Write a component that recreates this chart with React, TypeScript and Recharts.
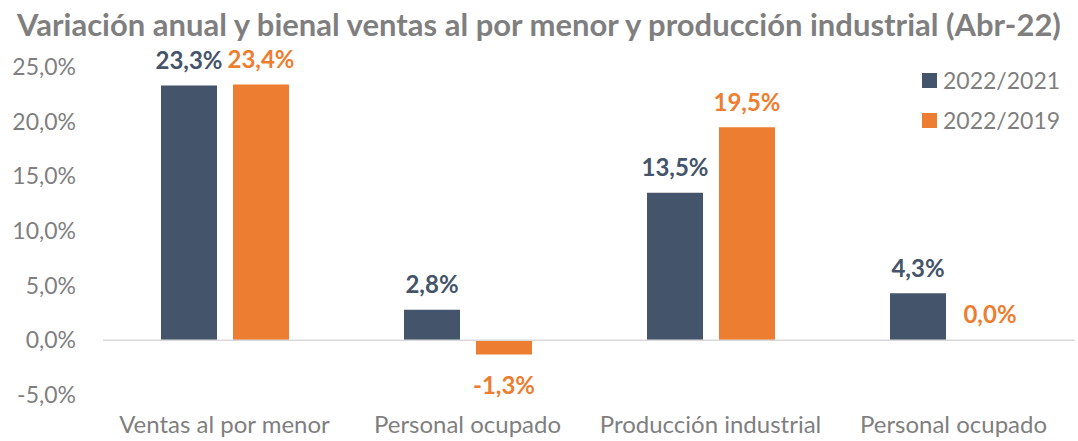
import { BarChart, Bar, XAxis, YAxis, LabelList, ReferenceLine, Cell } from "recharts";

const categories = ["Ventas al por menor", "Personal ocupado", "Producción industrial", "Personal ocupado "];
const anual = [23.3, 2.8, 13.5, 4.3]; // 2022/2021
const bienal = [23.4, -1.3, 19.5, 0.0]; // 2022/2019
const yTicks = [-5, 0, 5, 10, 15, 20, 25];
const seriesNames = ["2022/2021", "2022/2019"];

const data = categories.map((name, i) => ({ name, anual: anual[i], bienal: bienal[i] }));

const NAVY = "#44546A";
const ORANGE = "#ED7D31";
const GRAY = "#7F7F7F";
const FONT = "Lato, 'Open Sans', sans-serif";

const pct = (v: number) => v.toFixed(1).replace(".", ",") + "%";

const makeLabel = (color: string) => (props: any) => {
  const { x, y, width, height, value } = props;
  const top = Math.min(y, y + height);
  const bottom = Math.max(y, y + height);
  const cy = value < 0 ? bottom + 30 : top - 26;
  return (
    <text x={x + width / 2} y={cy} textAnchor="middle" dominantBaseline="central"
      fill={color} fontSize={24} fontWeight={700} fontFamily={FONT}>
      {pct(value)}
    </text>
  );
};

export default function App() {
  const colors = [NAVY, ORANGE];
  return (
    <div style={{ position: "fixed", left: 0, top: 0, width: 1078, height: 441, background: "#fff" }}>
      <div style={{ position: "absolute", left: 0, top: 5, width: 1078, textAlign: "center",
        fontFamily: FONT, fontWeight: 700, fontSize: 31, color: GRAY, whiteSpace: "nowrap" }}>
        Variación anual y bienal ventas al por menor y producción industrial (Abr-22)
      </div>
      <div style={{ position: "absolute", left: 922, top: 60, fontFamily: FONT, fontSize: 23, color: GRAY }}>
        {seriesNames.map((n, i) => (
          <div key={n} style={{ display: "flex", alignItems: "center", height: 40 }}>
            <span style={{ display: "inline-block", width: 15, height: 15, background: colors[i], marginRight: 6 }} />
            {n}
          </div>
        ))}
      </div>
      <BarChart width={1078} height={441} data={data}
        margin={{ top: 67, right: 3, left: 0, bottom: 0 }} barSize={56} barGap={16}>
        <XAxis dataKey="name" axisLine={false} tickLine={false} height={46}
          tick={{ fill: GRAY, fontSize: 24, fontFamily: FONT }} tickMargin={15} />
        <YAxis domain={[-5, 25]} ticks={yTicks} width={103} axisLine={false} tickLine={false}
          tickSize={0} tickMargin={27} tickFormatter={pct}
          tick={{ fill: GRAY, fontSize: 23, fontFamily: FONT }} />
        <ReferenceLine y={0} stroke="#D9D9D9" strokeWidth={1.5} />
        <Bar dataKey="anual" name={seriesNames[0]} fill={NAVY} isAnimationActive={false}>
          <LabelList dataKey="anual" content={makeLabel(NAVY)} />
        </Bar>
        <Bar dataKey="bienal" name={seriesNames[1]} fill={ORANGE} minPointSize={1} isAnimationActive={false}>
          {bienal.map((v, i) => (
            <Cell key={i} fill={ORANGE} fillOpacity={v === 0 ? 0 : 1} />
          ))}
          <LabelList dataKey="bienal" content={makeLabel(ORANGE)} />
        </Bar>
      </BarChart>
    </div>
  );
}
